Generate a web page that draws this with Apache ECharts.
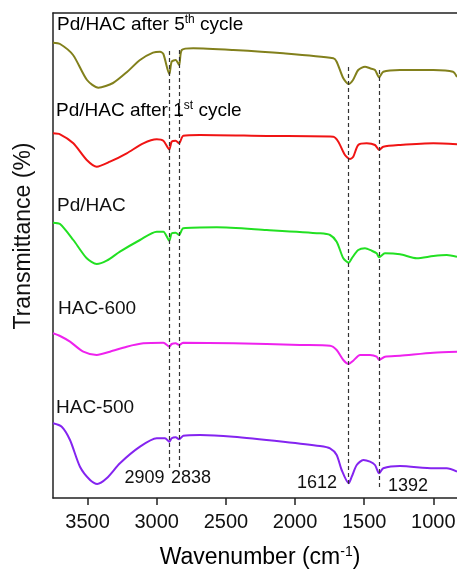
<!DOCTYPE html>
<html>
<head>
<meta charset="utf-8">
<script src="https://cdn.jsdelivr.net/npm/echarts@6/dist/echarts.min.js"></script>
<style>html,body{margin:0;padding:0;background:#fff}#c{width:457px;height:571px}</style>
</head>
<body>
<div id="c"></div>
<script>
// Wavenumber (cm^-1) and relative transmittance (arbitrary offset units)
const cycle5 = [[3750,455.3],[3699,454],[3605,443],[3504,418],[3422,410.3],[3316,415],[3215,426],[3121,438],[3027,445.3],[2976,446.3],[2952,444],[2909,424],[2892,436.3],[2863,438],[2838,433],[2819,448],[2736,449.7],[2446,448],[2085,444.7],[1723,439.7],[1699,436.3],[1651,419.7],[1612,414],[1581,418],[1543,428],[1494,431.3],[1458,429.7],[1422,428],[1392,420.7],[1362,426.3],[1241,428],[1000,428],[858,426.3],[829,421]];
const cycle1 = [[3750,364.7],[3699,363.7],[3603,354.7],[3506,338],[3434,331.3],[3338,336.3],[3217,344.7],[3097,354.7],[3000,358.7],[2952,357.3],[2909,348.7],[2892,356.3],[2863,357.3],[2838,354.7],[2808,362.3],[2687,363],[2205,362],[1723,361.3],[1687,356.3],[1639,343],[1603,339],[1579,341.3],[1543,353],[1482,354.7],[1422,353],[1392,348],[1362,351.3],[1241,353],[1000,354.7],[829,353.7]];
const pdhac = [[3750,275.3],[3699,274],[3603,258],[3506,239.7],[3434,234],[3362,237.3],[3266,246.3],[3121,258],[3000,266.3],[2952,266.3],[2909,257.3],[2892,264.7],[2863,265.3],[2838,263],[2808,269.7],[2566,270.7],[2205,268],[1820,264.7],[1747,263],[1699,256.3],[1651,239.7],[1612,235.3],[1590,239.7],[1543,248],[1494,249.7],[1446,247.3],[1410,244.7],[1392,240.7],[1350,244.7],[1241,243.7],[1120,239.7],[1000,242],[903,243],[829,241.3]];
const hac600 = [[3750,164.7],[3699,162],[3627,156.3],[3531,146.3],[3434,143],[3338,146.3],[3217,151.3],[3097,154.7],[2952,155.3],[2909,151.3],[2892,154],[2863,154.7],[2838,153],[2808,155.3],[2446,154.7],[1964,153],[1747,152.3],[1699,148],[1651,138],[1612,134],[1579,137.3],[1530,143],[1458,143],[1410,141.3],[1392,138],[1350,141.3],[1241,142.3],[1000,145.3],[829,146.3]];
const hac500 = [[3750,74.7],[3687,71.3],[3627,58],[3555,31.3],[3482,18],[3430,14],[3362,19.7],[3266,34.7],[3121,51.3],[3000,59.7],[2940,59.7],[2909,56.3],[2892,59.7],[2863,60.7],[2838,58.7],[2808,62.3],[2687,63],[2446,61.3],[2085,56.3],[1820,52],[1747,49.7],[1699,43],[1663,28],[1612,14.7],[1590,21.3],[1554,33],[1506,38],[1458,36.3],[1422,33],[1392,24.7],[1362,29.7],[1241,32],[1000,29.7],[903,29.7],[829,26.3]];
const peaks = [2909, 2838, 1612, 1392];
const peakSpan = [[447,30],[448,30],[431,14],[428,8]];
const xTicks = [3500, 3000, 2500, 2000, 1500, 1000];
const xMin = 829, xMax = 3750;

const FONT = "'Liberation Sans', Arial, sans-serif";
const chart = echarts.init(document.getElementById('c'), null, {renderer:'canvas'});

function line(name, data, color, extra) {
  return Object.assign({
    name, type:'line', data, showSymbol:false, smooth:0.25,
    lineStyle:{color, width:2}, itemStyle:{color}, z:3
  }, extra||{});
}

const dashData = peaks.map((p,i)=>[{coord:[p,peakSpan[i][0]]},{coord:[p,peakSpan[i][1]]}]);

const sup = {fontSize:12, fontFamily:FONT, color:'#111', verticalAlign:'top', padding:[0,0,10,0]};
const norm = {fontSize:19, fontFamily:FONT, color:'#111'};

chart.setOption({
  animation:false,
  backgroundColor:'#fff',
  grid:{left:53, right:0, top:13, bottom:73, show:false, containLabel:false, outerBoundsMode:'none'},
  xAxis:[{type:'value', inverse:true, min:xMin, max:xMax,
    axisLine:{show:true, lineStyle:{color:'#222', width:1.5}},
    axisTick:{show:true, length:7, customValues:xTicks, lineStyle:{color:'#222', width:1.5}},
    axisLabel:{fontSize:20, fontFamily:FONT, color:'#111', margin:14, customValues:xTicks, formatter:v=>String(v)},
    splitLine:{show:false}},
   {type:'value', inverse:true, min:xMin, max:xMax, position:'top',
    axisLine:{show:true, onZero:false, lineStyle:{color:'#222', width:1.5}},
    axisTick:{show:false}, axisLabel:{show:false}, splitLine:{show:false}}],
  yAxis:{type:'value', min:0, max:485,
    axisLine:{show:true, lineStyle:{color:'#222', width:1.5}},
    axisTick:{show:false}, axisLabel:{show:false}, splitLine:{show:false}},
  series:[
    line('Pd/HAC after 5th cycle', cycle5, '#82801c', {
      markLine:{silent:true, symbol:'none', label:{show:false},
        lineStyle:{color:'#333', width:1.2, type:[4,3]}, data:dashData}
    }),
    line('Pd/HAC after 1st cycle', cycle1, '#f01414'),
    line('Pd/HAC', pdhac, '#22e022'),
    line('HAC-600', hac600, '#ee22ee'),
    line('HAC-500', hac500, '#8424f0')
  ],
  graphic:[
    {type:'text', left:57, top:14, z:10, style:{text:'{n|Pd/HAC after 5}{s|th}{n| cycle}', rich:{n:norm,s:sup}}},
    {type:'text', left:56, top:100, z:10, style:{text:'{n|Pd/HAC after 1}{s|st}{n| cycle}', rich:{n:norm,s:sup}}},
    {type:'text', left:57, top:196, z:10, style:{text:'Pd/HAC', fontSize:19, fontFamily:FONT, fill:'#111'}},
    {type:'text', left:58, top:299, z:10, style:{text:'HAC-600', fontSize:19, fontFamily:FONT, fill:'#111'}},
    {type:'text', left:56, top:398, z:10, style:{text:'HAC-500', fontSize:19, fontFamily:FONT, fill:'#111'}},
    {type:'text', x:144.5, y:478, z:10, style:{text:'2909', fontSize:18, fontFamily:FONT, fill:'#111', align:'center', verticalAlign:'middle'}},
    {type:'text', x:191, y:478, z:10, style:{text:'2838', fontSize:18, fontFamily:FONT, fill:'#111', align:'center', verticalAlign:'middle'}},
    {type:'text', x:317, y:483, z:10, style:{text:'1612', fontSize:18, fontFamily:FONT, fill:'#111', align:'center', verticalAlign:'middle'}},
    {type:'text', x:408, y:486, z:10, style:{text:'1392', fontSize:18, fontFamily:FONT, fill:'#111', align:'center', verticalAlign:'middle'}},
    {type:'text', x:24, y:236, rotation:Math.PI/2, z:10, style:{text:'Transmittance (%)', fontSize:23, fontFamily:FONT, fill:'#111', align:'center', verticalAlign:'middle'}},
    {type:'text', x:260, y:558, z:10, style:{text:'{t|Wavenumber (cm}{u|-1}{t|)}', align:'center', verticalAlign:'middle',
      rich:{t:{fontSize:23, fontFamily:FONT, color:'#111'}, u:{fontSize:14, fontFamily:FONT, color:'#111', verticalAlign:'top', padding:[0,0,11,0]}}}}
  ]
});
</script>
</body>
</html>
